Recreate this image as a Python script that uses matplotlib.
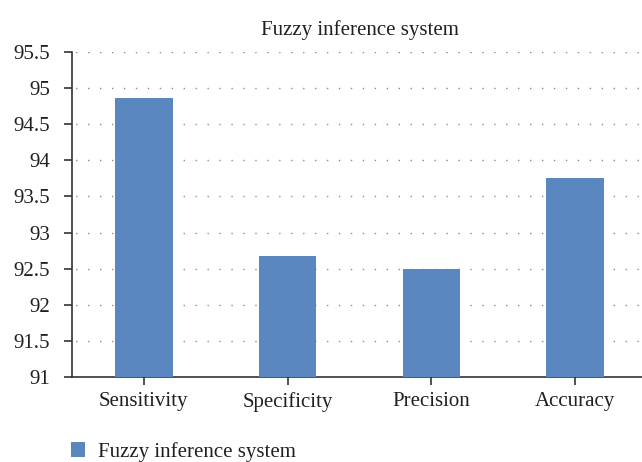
"""
Fuzzy inference system - bar chart of classifier metrics
"""

import matplotlib
matplotlib.use('Agg')
import matplotlib.pyplot as plt
from matplotlib.patches import Patch
import numpy as np

# --- Data ---
metrics = ['Sensitivity', 'Specificity', 'Precision', 'Accuracy']
values = [94.87, 92.68, 92.50, 93.75]
series_name = 'Fuzzy inference system'

plt.rcParams['font.family'] = ['Liberation Serif', 'DejaVu Serif']
plt.rcParams['lines.scale_dashes'] = False

bar_color = '#5B87C1'
text_color = '#231F20'

fig = plt.figure(figsize=(6.42, 4.62), dpi=100)
ax = fig.add_axes([72 / 642, 1 - 377 / 462, 575 / 642, 325 / 462])

x = np.arange(len(metrics))
ax.bar(x, values, width=0.40, color=bar_color, zorder=3)

ax.set_xlim(-0.5, len(metrics) - 0.5)
ax.set_ylim(91, 95.5)
ax.set_yticks(np.arange(91, 95.51, 0.5))
ax.set_yticklabels([f'{v:g}' for v in np.arange(91, 95.51, 0.5)])
ax.set_xticks(x)
ax.set_xticklabels(metrics)

ax.tick_params(axis='both', labelsize=15, colors='#333333', labelcolor=text_color,
               length=6, width=1.2, direction='out')
ax.tick_params(axis='x', pad=5)
ax.tick_params(axis='y', pad=10)

# Dotted grid
ax.yaxis.grid(True, linestyle=(6, (1.0, 7.6)), color='#8c8c8c', linewidth=1.0, zorder=0)
ax.set_axisbelow(True)

for side in ['top', 'right']:
    ax.spines[side].set_visible(False)
for side in ['left', 'bottom']:
    ax.spines[side].set_color('#333333')
    ax.spines[side].set_linewidth(1.2)

ax.set_title(series_name, fontsize=15, color=text_color, pad=12)

handle = Patch(facecolor=bar_color, edgecolor='none')
fig.legend([handle], [series_name], loc='center left',
           bbox_to_anchor=(52 / 642, 1 - 452 / 462), frameon=False,
           fontsize=15, handlelength=0.7, handleheight=0.7, handletextpad=0.6,
           labelcolor=text_color)

plt.savefig('out.png', dpi=100)
